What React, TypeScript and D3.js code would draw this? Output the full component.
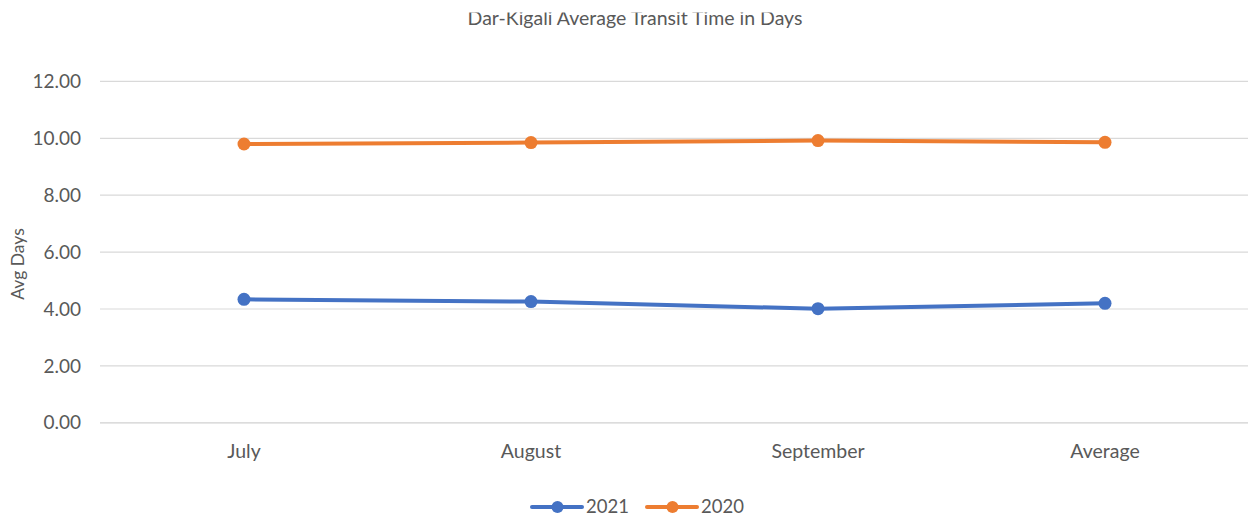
import React from "react";
import * as d3 from "d3";

const categories = ["July", "August", "September", "Average"];
const series2021 = [4.34, 4.26, 4.01, 4.2];
const series2020 = [9.8, 9.85, 9.92, 9.86];
const yTicks = [0, 2, 4, 6, 8, 10, 12];
const seriesList = [
  { name: "2021", values: series2021, color: "#4472C4" },
  { name: "2020", values: series2020, color: "#ED7D31" },
];

const W = 1248;
const H = 518;
const FONT = "Lato, 'Open Sans', 'Liberation Sans', sans-serif";
const GREY = "#595959";

export default function App() {
  const x = d3.scaleBand<string>().domain(categories).range([100.5, 1248.5]);
  const y = d3.scaleLinear().domain([0, 12]).range([422.8, 81.4]);
  const cx = (i: number) => (x(categories[i]) as number) + x.bandwidth() / 2;
  const line = d3
    .line<number>()
    .x((_, i) => cx(i))
    .y((d) => y(d));

  return (
    <svg
      width={W}
      height={H}
      style={{ position: "absolute", left: 0, top: 0, background: "#fff" }}
    >
      <rect x={0} y={0} width={W} height={H} fill="#fff" />
      <text
        x={635}
        y={25}
        textAnchor="middle"
        fontFamily={FONT}
        fontSize={19.5}
        fill={GREY}
      >
        Dar-Kigali Average Transit Time in Days
      </text>
      <rect x={0} y={0} width={W} height={12.5} fill="#fff" />
      {yTicks.map((t) => (
        <g key={t}>
          <line
            x1={100}
            x2={W}
            y1={y(t)}
            y2={y(t)}
            stroke={t === 0 ? "#d0d0d0" : "#d9d9d9"}
            strokeWidth={1.2}
          />
          <text
            x={81}
            y={y(t)}
            dy="0.35em"
            textAnchor="end"
            fontFamily={FONT}
            fontSize={19}
            fill={GREY}
          >
            {d3.format(".2f")(t)}
          </text>
        </g>
      ))}
      <text
        transform={`translate(24,264) rotate(-90)`}
        textAnchor="middle"
        fontFamily={FONT}
        fontSize={17.5}
        fill={GREY}
      >
        Avg Days
      </text>
      {categories.map((c, i) => (
        <text
          key={c}
          x={cx(i)}
          y={451}
          dy="0.35em"
          textAnchor="middle"
          fontFamily={FONT}
          fontSize={19.5}
          fill={GREY}
        >
          {c}
        </text>
      ))}
      {seriesList.map((s) => (
        <g key={s.name}>
          <path
            d={line(s.values) || ""}
            fill="none"
            stroke={s.color}
            strokeWidth={4}
            strokeLinejoin="round"
            strokeLinecap="round"
          />
          {s.values.map((v, i) => (
            <circle key={i} cx={cx(i)} cy={y(v)} r={6.5} fill={s.color} />
          ))}
        </g>
      ))}
      {seriesList.map((s, i) => {
        const lx = 532 + i * 115;
        return (
          <g key={s.name}>
            <line
              x1={lx}
              x2={lx + 50}
              y1={507}
              y2={507}
              stroke={s.color}
              strokeWidth={4}
              strokeLinecap="round"
            />
            <circle cx={lx + 25.5} cy={507} r={6} fill={s.color} />
            <text
              x={lx + 54}
              y={507}
              dy="0.35em"
              fontFamily={FONT}
              fontSize={18.5}
              fill={GREY}
            >
              {s.name}
            </text>
          </g>
        );
      })}
    </svg>
  );
}
